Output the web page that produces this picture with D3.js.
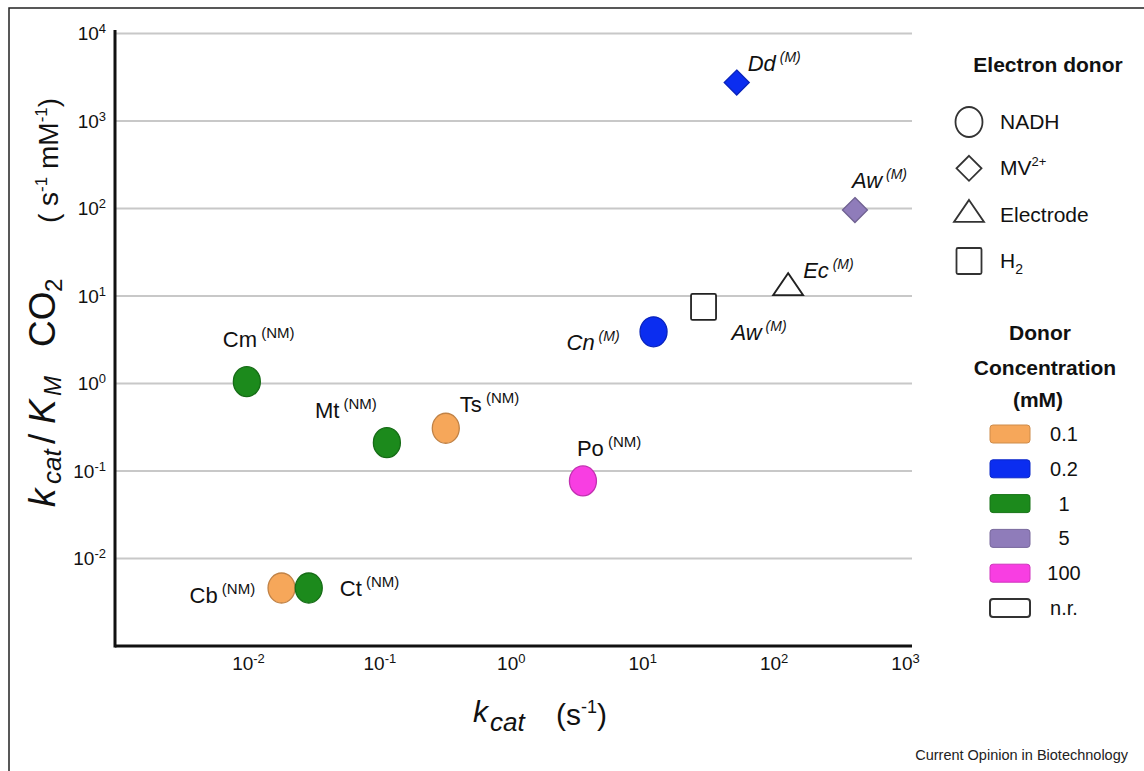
<!DOCTYPE html>
<html>
<head>
<meta charset="utf-8">
<script src="https://cdn.jsdelivr.net/npm/d3@7"></script>
<style>
  body { margin: 0; background: #fff; }
  svg { display: block; font-family: "Liberation Sans", Arial, Helvetica, sans-serif; }
</style>
</head>
<body>
<div id="chart"></div>
<script>
// Données
const enzymes = ["Cm", "Mt", "Ts", "Po", "Cb", "Ct", "Cn", "Aw", "Ec", "Dd", "Aw"];
const groups = ["NM", "NM", "NM", "NM", "NM", "NM", "M", "M", "M", "M", "M"];
const kcat = [0.0098, 0.114, 0.32, 3.54, 0.018, 0.029, 12.2, 29.3, 129, 52.4, 416];
const kcatKm = [1.05, 0.211, 0.308, 0.077, 0.0046, 0.0046, 3.9, 7.5, 12.4, 2750, 96];
const donors = ["NADH", "NADH", "NADH", "NADH", "NADH", "NADH", "NADH", "H2", "Electrode", "MV", "MV"];
const concentrations = ["1", "1", "0.1", "100", "0.1", "1", "0.2", "n.r.", "n.r.", "0.2", "5"];

// Légendes
const donorTypes = ["NADH", "MV", "Electrode", "H2"];
const concLevels = ["0.1", "0.2", "1", "5", "100", "n.r."];
const concColors = ["#f6a75a", "#0b2df0", "#1c8a1c", "#8f7cba", "#f83ee2", "#ffffff"];

// Graduations
const xTicks = [1e-2, 1e-1, 1e0, 1e1, 1e2, 1e3];
const yTicks = [1e-2, 1e-1, 1e0, 1e1, 1e2, 1e3, 1e4];

// Décalage des étiquettes (dx, dy) par point
const labelOffsets = [[-24, -35], [-72, -25], [14, -16], [-6, -25], [-92, 15], [31, 8],
                      [-87, 18], [28, 33], [15, -10], [11, -12], [-3, -22]];

const W = 1144, H = 771;
const svg = d3.select("#chart").append("svg")
  .attr("width", W)
  .attr("height", H);

// Cadre (gauche + haut)
svg.append("path")
  .attr("d", `M9,${H} L9,8 L${W},8`)
  .attr("fill", "none")
  .attr("stroke", "#222")
  .attr("stroke-width", 1.5);

// Échelles log
const x = d3.scaleLog().domain([1e-3, 1e3]).range([116.6, 905]);
const y = d3.scaleLog().domain([1e-3, 1e4]).range([646, 33.5]);
const color = d3.scaleOrdinal().domain(concLevels).range(concColors);

const xLeft = 115, xRight = 912;

// Grille
svg.append("g")
  .selectAll("line")
  .data(yTicks)
  .join("line")
  .attr("x1", xLeft)
  .attr("x2", xRight)
  .attr("y1", d => y(d))
  .attr("y2", d => y(d))
  .attr("stroke", "#c8c8c8")
  .attr("stroke-width", 2);

// Axes
const supFmt = d => String(Math.round(Math.log10(d)));

const yAxis = svg.append("g")
  .attr("transform", `translate(${xLeft},0)`)
  .call(d3.axisLeft(y).tickValues(yTicks).tickSize(0).tickPadding(9).tickFormat(() => "10"));
yAxis.select(".domain").remove();
yAxis.selectAll(".tick text")
  .attr("font-size", 19)
  .attr("font-family", null)
  .attr("fill", "#111")
  .each(function(d) {
    d3.select(this).append("tspan")
      .attr("font-size", 13)
      .attr("dy", -7)
      .text(supFmt(d));
  });

const xAxis = svg.append("g")
  .attr("transform", "translate(0,646)")
  .call(d3.axisBottom(x).tickValues(xTicks).tickSize(0).tickPadding(11).tickFormat(() => "10"));
xAxis.select(".domain").remove();
xAxis.selectAll(".tick text")
  .attr("font-size", 19)
  .attr("font-family", null)
  .attr("fill", "#111")
  .each(function(d) {
    d3.select(this).append("tspan")
      .attr("font-size", 13)
      .attr("dy", -7)
      .text(supFmt(d));
  });

svg.append("line")
  .attr("x1", xLeft).attr("x2", xLeft)
  .attr("y1", 30).attr("y2", 647.5)
  .attr("stroke", "#111").attr("stroke-width", 3);
svg.append("line")
  .attr("x1", xLeft).attr("x2", xRight)
  .attr("y1", 646).attr("y2", 646)
  .attr("stroke", "#111").attr("stroke-width", 3);

// Titres des axes
const xt = svg.append("text").attr("fill", "#111");
xt.append("tspan").attr("x", 473).attr("y", 722).attr("font-size", 30).attr("font-style", "italic").text("k");
xt.append("tspan").attr("x", 490).attr("y", 731).attr("font-size", 26).attr("font-style", "italic").text("cat");
xt.append("tspan").attr("x", 556).attr("y", 725).attr("font-size", 30).text("(s");
xt.append("tspan").attr("dy", -12).attr("font-size", 18).text("-1");
xt.append("tspan").attr("dy", 12).attr("font-size", 30).text(")");

const yt = svg.append("text").attr("fill", "#111").attr("transform", "rotate(-90)");
yt.append("tspan").attr("x", -507).attr("y", 55).attr("font-size", 37).attr("font-style", "italic").text("k");
yt.append("tspan").attr("x", -484).attr("y", 61).attr("font-size", 26).attr("font-style", "italic").text("cat");
yt.append("tspan").attr("x", -444).attr("y", 55).attr("font-size", 37).text("/");
yt.append("tspan").attr("x", -424).attr("y", 55).attr("font-size", 37).attr("font-style", "italic").text("K");
yt.append("tspan").attr("x", -396).attr("y", 61).attr("font-size", 24).attr("font-style", "italic").text("M");
yt.append("tspan").attr("x", -347).attr("y", 55).attr("font-size", 37).text("CO");
yt.append("tspan").attr("x", -292).attr("y", 62).attr("font-size", 24).text("2");
yt.append("tspan").attr("x", -223).attr("y", 58).attr("font-size", 28).text("( s");
yt.append("tspan").attr("dy", -11).attr("font-size", 17).text("-1");
yt.append("tspan").attr("dy", 11).attr("font-size", 28).text(" mM");
yt.append("tspan").attr("dy", -11).attr("font-size", 17).text("-1");
yt.append("tspan").attr("dy", 11).attr("font-size", 28).text(")");

// Formes selon le donneur d'électrons
function drawShape(g, type, fill, stroke) {
  if (type === "NADH") {
    g.append("ellipse").attr("rx", 13.5).attr("ry", 15);
  } else if (type === "MV") {
    g.append("path").attr("d", "M0,-12.5L12.5,0L0,12.5L-12.5,0Z");
  } else if (type === "Electrode") {
    g.append("path").attr("d", "M0,-14.7L15,7.3L-15,7.3Z");
  } else {
    g.append("rect").attr("x", -12.5).attr("y", -13).attr("width", 25).attr("height", 26).attr("rx", 1.5);
  }
  g.selectAll("*")
    .attr("fill", fill)
    .attr("stroke", stroke)
    .attr("stroke-width", fill === "#ffffff" ? 1.8 : 1.3);
}

// Points
const points = svg.append("g");
enzymes.forEach((name, i) => {
  const c = color(concentrations[i]);
  const g = points.append("g")
    .attr("transform", `translate(${x(kcat[i])},${y(kcatKm[i])})`);
  drawShape(g, donors[i], c, c === "#ffffff" ? "#222" : d3.color(c).darker(0.7));

  const italic = groups[i] === "M";
  const t = points.append("text")
    .attr("x", x(kcat[i]) + labelOffsets[i][0])
    .attr("y", y(kcatKm[i]) + labelOffsets[i][1])
    .attr("fill", "#111")
    .attr("font-style", italic ? "italic" : "normal");
  t.append("tspan").attr("font-size", 22).text(name);
  t.append("tspan").attr("font-size", italic ? 14 : 15).attr("dy", -9).text(` (${groups[i]})`);
});

// Légende : donneur d'électrons
svg.append("text")
  .attr("x", 1048).attr("y", 72)
  .attr("text-anchor", "middle")
  .attr("font-size", 21).attr("font-weight", "bold").attr("fill", "#111")
  .text("Electron donor");

const donorRow = d3.scalePoint().domain(donorTypes).range([122, 261]);
donorTypes.forEach(type => {
  const g = svg.append("g").attr("transform", `translate(969,${donorRow(type)})`);
  drawShape(g, type, "#ffffff", "#333");
  const t = svg.append("text")
    .attr("x", 1000).attr("y", donorRow(type) + 7)
    .attr("font-size", 21).attr("fill", "#111");
  if (type === "MV") {
    t.append("tspan").text("MV");
    t.append("tspan").attr("font-size", 13).attr("dy", -9).text("2+");
  } else if (type === "H2") {
    t.append("tspan").text("H");
    t.append("tspan").attr("font-size", 14).attr("dy", 6).text("2");
  } else {
    t.text(type);
  }
});

// Légende : concentration
const concTitle = svg.append("text")
  .attr("text-anchor", "middle")
  .attr("font-size", 21).attr("font-weight", "bold").attr("fill", "#111");
concTitle.append("tspan").attr("x", 1040).attr("y", 340).text("Donor");
concTitle.append("tspan").attr("x", 1045).attr("y", 375).text("Concentration");
concTitle.append("tspan").attr("x", 1038).attr("y", 407).text("(mM)");

const concRow = d3.scalePoint().domain(concLevels).range([434, 608]);
concLevels.forEach(level => {
  const c = color(level);
  svg.append("rect")
    .attr("x", 990).attr("y", concRow(level) - 9)
    .attr("width", 40).attr("height", 18).attr("rx", 3)
    .attr("fill", c)
    .attr("stroke", c === "#ffffff" ? "#333" : d3.color(c).darker(0.5))
    .attr("stroke-width", c === "#ffffff" ? 2 : 1);
  svg.append("text")
    .attr("x", 1064).attr("y", concRow(level) + 7)
    .attr("text-anchor", "middle")
    .attr("font-size", 20).attr("fill", "#111")
    .text(level);
});

// Source
svg.append("text")
  .attr("x", 1128).attr("y", 760)
  .attr("text-anchor", "end")
  .attr("font-size", 14.5).attr("fill", "#222")
  .text("Current Opinion in Biotechnology");
</script>
</body>
</html>
